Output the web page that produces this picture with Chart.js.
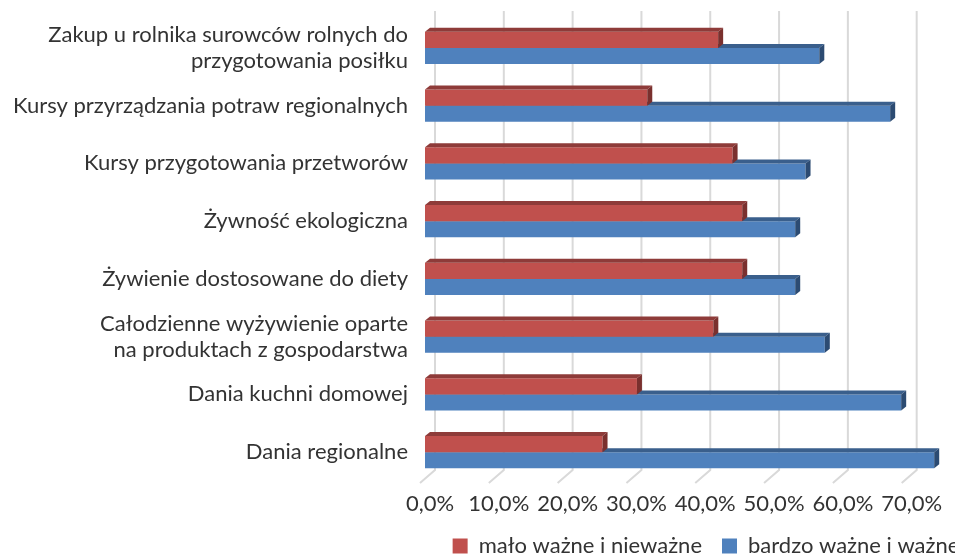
<!DOCTYPE html>
<html>
<head>
<meta charset="utf-8">
<script src="https://cdn.jsdelivr.net/npm/chart.js@4/dist/chart.umd.min.js"></script>
<style>
    html, body { margin: 0; padding: 0; background: #fff; overflow: hidden; }
</style>
</head>
<body>
<canvas id="chart" width="1412" height="567"></canvas>
<script>
// dane (w %), obraz jest przycięty z prawej strony
const kategorie = [
    ['Zakup u rolnika surowców rolnych do', 'przygotowania posiłku'],
    'Kursy przyrządzania potraw regionalnych',
    'Kursy przygotowania przetworów',
    'Żywność ekologiczna',
    'Żywienie dostosowane do diety',
    ['Całodzienne wyżywienie oparte', 'na produktach z gospodarstwa'],
    'Dania kuchni domowej',
    'Dania regionalne'
];
const maloWazne = [42.6, 32.3, 44.7, 46.1, 46.1, 41.9, 30.8, 25.8];
const bardzoWazne = [57.3, 67.6, 55.3, 53.8, 53.8, 58.1, 69.2, 74.0];
const serie = ['mało ważne i nieważne', 'bardzo ważne i ważne'];
const osX = { min: 0, max: 80, krok: 10, widoczneDo: 70 };

const FONT = 'Lato, "Open Sans", sans-serif';
const GLEB = { dx: 5, dy: 4 };         // głębokość słupka 3D
const SCIANA = { dx: 10, dy: 11 };     // przesunięcie tylnej ściany

const fmt = v => v.toFixed(1).replace('.', ',') + '%';

// siatka na tylnej ścianie + skośne kreski podłogi
const siatka3d = {
    id: 'siatka3d',
    beforeDatasetsDraw(chart) {
        const { ctx, chartArea, scales } = chart;
        ctx.save();
        ctx.strokeStyle = '#D9D9D9';
        ctx.lineWidth = 2;
        for (let v = osX.min; v <= osX.max; v += osX.krok) {
            const px = scales.x.getPixelForValue(v) + SCIANA.dx;
            const dol = chartArea.bottom - SCIANA.dy;
            ctx.beginPath();
            ctx.moveTo(px, chartArea.top - 8);
            ctx.lineTo(px, dol);
            ctx.lineTo(px - 15, dol + 13);
            ctx.stroke();
        }
        ctx.restore();
    }
};

// boki i wierzch słupków
const sciany3d = {
    id: 'sciany3d',
    afterDatasetDraw(chart, args) {
        const { ctx } = chart;
        const ds = chart.data.datasets[args.index];
        ctx.save();
        args.meta.data.forEach(bar => {
            const p = bar.getProps(['x', 'y', 'base', 'height'], true);
            const top = p.y - p.height / 2;
            const bottom = p.y + p.height / 2;
            ctx.fillStyle = ds.kolorWierzch;
            ctx.beginPath();
            ctx.moveTo(p.base, top);
            ctx.lineTo(p.x, top);
            ctx.lineTo(p.x + GLEB.dx, top - GLEB.dy);
            ctx.lineTo(p.base + GLEB.dx, top - GLEB.dy);
            ctx.closePath();
            ctx.fill();
            ctx.fillStyle = ds.kolorBok;
            ctx.beginPath();
            ctx.moveTo(p.x, top);
            ctx.lineTo(p.x + GLEB.dx, top - GLEB.dy);
            ctx.lineTo(p.x + GLEB.dx, bottom - GLEB.dy);
            ctx.lineTo(p.x, bottom);
            ctx.closePath();
            ctx.fill();
        });
        ctx.restore();
    }
};

new Chart(document.getElementById('chart'), {
    type: 'bar',
    data: {
        labels: kategorie,
        datasets: [{
            label: serie[0],
            data: maloWazne,
            backgroundColor: '#C0504D',
            kolorWierzch: '#8E3B39',
            kolorBok: '#7A302E',
            categoryPercentage: 0.555,
            barPercentage: 1
        }, {
            label: serie[1],
            data: bardzoWazne,
            backgroundColor: '#4F81BD',
            kolorWierzch: '#3A5F8C',
            kolorBok: '#2C4B72',
            categoryPercentage: 0.555,
            barPercentage: 1
        }]
    },
    options: {
        indexAxis: 'y',
        responsive: false,
        animation: false,
        layout: { padding: { top: 19, right: 0, left: 0, bottom: 0 } },
        scales: {
            x: {
                min: osX.min,
                max: osX.max,
                grid: { display: false },
                border: { display: false },
                afterFit(scale) {
                    scale.height = 34;
                    scale.paddingLeft = 0;
                    scale.paddingRight = 436.5;   // reszta płótna poza oknem, legenda wyśrodkowana na całości
                },
                ticks: {
                    stepSize: osX.krok,
                    autoSkip: false,
                    maxRotation: 0,
                    labelOffset: 5,
                    padding: 4,
                    color: '#333',
                    font: { family: FONT, size: 22, lineHeight: 1 },
                    callback: v => v > osX.widoczneDo ? '' : fmt(v)
                }
            },
            y: {
                grid: { display: false },
                border: { display: false },
                afterFit(scale) {
                    scale.width = 425;
                    scale.paddingTop = 0;
                    scale.paddingBottom = 0;
                },
                ticks: {
                    autoSkip: false,
                    padding: 9,
                    color: '#333',
                    font: { family: FONT, size: 22, lineHeight: 1.18 }
                }
            }
        },
        plugins: {
            tooltip: { enabled: false },
            legend: {
                position: 'bottom',
                align: 'center',
                labels: {
                    color: '#333',
                    boxWidth: 15,
                    boxHeight: 15,
                    padding: 20,
                    font: { family: FONT, size: 22 }
                }
            }
        }
    },
    plugins: [siatka3d, sciany3d]
});
</script>
</body>
</html>
